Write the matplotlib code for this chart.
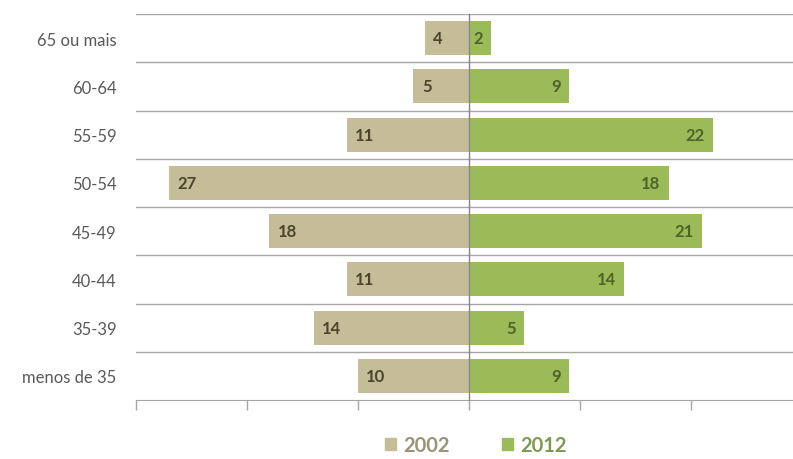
import matplotlib.pyplot as plt
import numpy as np

plt.rcParams['font.family'] = ['Lato', 'DejaVu Sans']

# age groups from bottom to top
groups = ['menos de 35', '35-39', '40-44', '45-49', '50-54', '55-59', '60-64', '65 ou mais']
v2002 = [10, 14, 11, 18, 27, 11, 5, 4]
v2012 = [9, 5, 14, 21, 18, 22, 9, 2]

c2002 = '#C4BD97'
c2012 = '#9BBB59'
t2002 = '#4A452A'
t2012 = '#4F6228'

fig = plt.figure(figsize=(7.93, 4.6), dpi=100)
ax = fig.add_axes([136/793, 1 - 401/460, 1 - 136/793, (401 - 15)/460])

y = np.arange(len(groups))
ax.barh(y, [-v for v in v2002], height=0.7, color=c2002, zorder=2)
ax.barh(y, v2012, height=0.7, color=c2012, zorder=2)

for yi, a, b in zip(y, v2002, v2012):
    ax.annotate(str(a), (-a, yi), xytext=(6, 0), textcoords='offset points',
                ha='left', va='center', fontsize=12, fontweight='bold', color=t2002, zorder=3)
    ax.annotate(str(b), (b, yi), xytext=(-6, 0), textcoords='offset points',
                ha='right', va='center', fontsize=12, fontweight='bold', color=t2012, zorder=3)

ax.set_xlim(-30, (793 - 469) / 11.1)
ax.set_ylim(-0.5, len(groups) - 0.5)

# separators between groups
for b in np.arange(0.5, len(groups), 1.0):
    ax.axhline(b, color='#A6A6A6', lw=1, zorder=1)
ax.axvline(0, color='#868686', lw=1, zorder=3, ymin=0, ymax=1, clip_on=False)

ax.set_xticks([-30, -20, -10, 0, 10, 20])
ax.set_xticklabels([])
ax.tick_params(axis='x', length=7, color='#A6A6A6', width=1)
ax.set_yticks(y)
ax.set_yticklabels(groups, fontsize=12, color='#595959')
ax.tick_params(axis='y', length=0, pad=14)

for s in ['left', 'right', 'top']:
    ax.spines[s].set_visible(False)
ax.spines['bottom'].set_color('#A6A6A6')

h1 = plt.Rectangle((0, 0), 1, 1, color=c2002)
h2 = plt.Rectangle((0, 0), 1, 1, color=c2012)
fig.legend([h1, h2], ['2002', '2012'], loc='center', bbox_to_anchor=(0.6, 0.03),
           ncol=2, frameon=False, handlelength=0.55, handleheight=0.55, handletextpad=0.35,
           columnspacing=2.6, labelcolor=['#9A9474', '#7F9A50'], borderpad=0.1,
           prop={'size': 14.5, 'weight': 'bold'})

fig.savefig('out.png', dpi=100)
